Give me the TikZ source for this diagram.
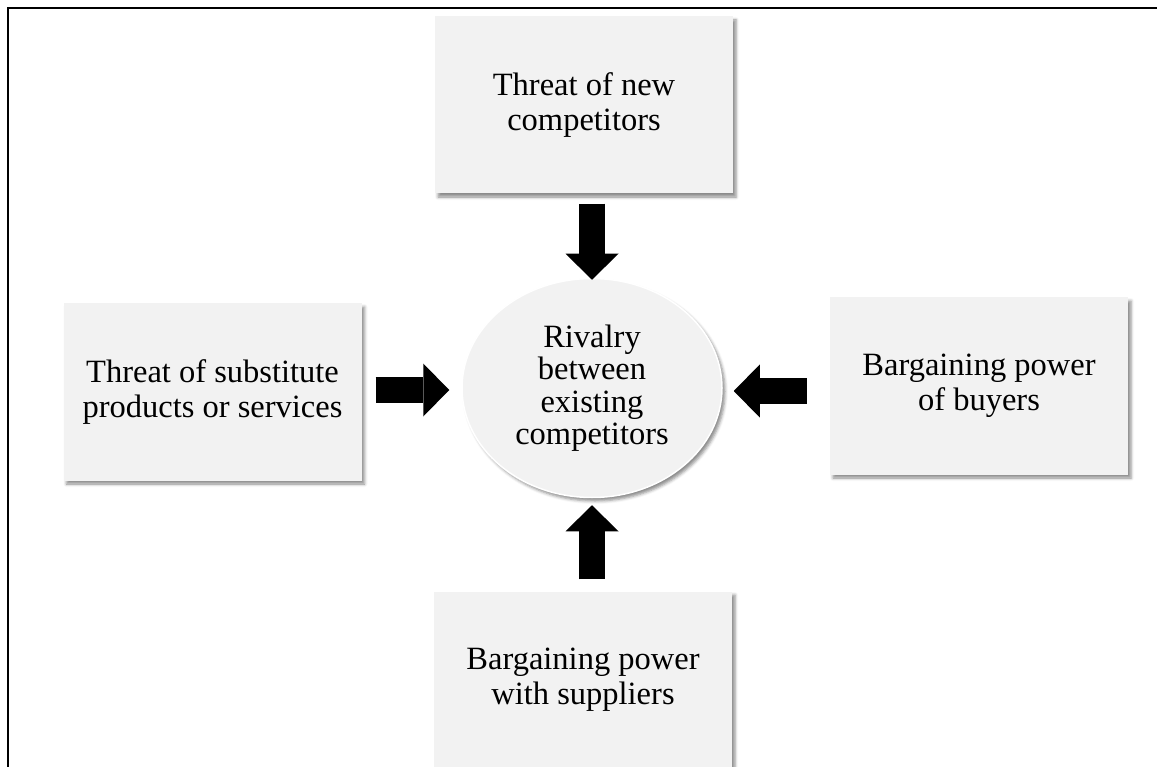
\documentclass[tikz,border=0pt]{standalone}
\usepackage{fontspec}
\setmainfont{Liberation Serif}
\usetikzlibrary{shapes.geometric,arrows.meta,shadows.blur}
\definecolor{boxfill}{HTML}{F2F2F2}
\begin{document}
\begin{tikzpicture}[x=1pt,y=-1pt,
  softshadow/.style={blur shadow={shadow xshift=3pt, shadow yshift=-3.5pt, shadow blur radius=3pt, shadow opacity=45}},
  box/.style={rectangle, fill=boxfill, minimum width=298pt, minimum height=177pt, inner sep=0pt,
    align=center, font=\fontsize{32.5}{35}\selectfont, softshadow},
  rivalstyle/.style={ellipse, fill=boxfill, draw=white, line width=1.5pt, minimum width=260pt,
    minimum height=219pt, inner sep=0pt, align=center, font=\fontsize{32.5}{32.5}\selectfont, softshadow},
  bigarrow/.style={draw=black, line width=25.5pt, -{Triangle[length=26pt, width=53pt, line width=0pt]}},
  frame/.style={draw=black, line width=1.6pt}]
\useasboundingbox (0,0) rectangle (1157,767);
\clip (0,0) rectangle (1157,767);
\draw[frame] (8,800) -- (8,8) -- (1170,8);
\node[box] (new) at (584,105) {Threat of new\\competitors};
\node[box] (subst) at (212.5,392) {Threat of substitute\\products or services};
\node[box] (buyers) at (979,386) {Bargaining power\\of buyers};
\node[box] (suppl) at (583,680) {Bargaining power\\with suppliers};
\node[rivalstyle] (rival) at (592,388) {Rivalry\\between\\existing\\competitors};
\draw[bigarrow, shorten <=10pt, shorten >=-2pt] (new.south -| rival.north) -- (rival.north);
\draw[bigarrow, shorten <=12pt, shorten >=7pt] (suppl.north -| rival.south) -- (rival.south);
\draw[bigarrow, shorten <=14pt, shorten >=12pt] ([yshift=2pt]subst.east) -- ([yshift=2pt]subst.east -| rival.west);
\draw[bigarrow, shorten <=23pt, shorten >=11pt] ([yshift=-5pt]buyers.west) -- ([yshift=-5pt]buyers.west -| rival.east);
\end{tikzpicture}
\end{document}
